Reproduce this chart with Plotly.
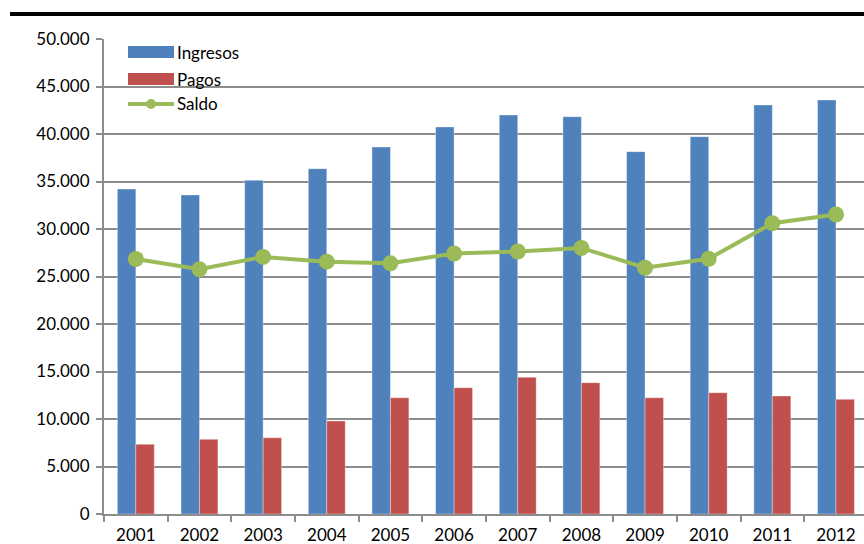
import plotly.graph_objects as go

# Series data (thousands of units per year)
years = ["2001", "2002", "2003", "2004", "2005", "2006",
         "2007", "2008", "2009", "2010", "2011", "2012"]
ingresos = [34210, 33580, 35130, 36350, 38630, 40740,
            42000, 41820, 38140, 39720, 43050, 43580]
pagos = [7340, 7860, 8030, 9790, 12240, 13300,
         14390, 13820, 12240, 12770, 12420, 12070]
saldo = [26840, 25760, 27060, 26560, 26390, 27420,
         27630, 28010, 25920, 26860, 30610, 31530]
y_ticks = [0, 5000, 10000, 15000, 20000, 25000,
           30000, 35000, 40000, 45000, 50000]
y_labels = ["0", "5.000", "10.000", "15.000", "20.000", "25.000",
            "30.000", "35.000", "40.000", "45.000", "50.000"]

BLUE = "#4F81BD"
RED = "#C0504D"
GREEN = "#9BBB59"
GRID = "#8C8C8C"
FONT = "Lato"
FS = 17

W, H = 864, 544
L, R, T, B = 104, 0, 39, 30
PW, PH = W - L - R, H - T - B


def xp(px):
    return (px - L) / PW


def yp(py):
    return (H - B - py) / PH


fig = go.Figure()
fig.add_bar(x=years, y=ingresos, name="Ingresos", marker_color=BLUE,
            marker_line=dict(color="rgba(255,255,255,0.35)", width=1))
fig.add_bar(x=years, y=pagos, name="Pagos", marker_color=RED,
            marker_line=dict(color="rgba(255,255,255,0.35)", width=1))
fig.add_scatter(x=years, y=saldo, name="Saldo", mode="lines+markers",
                line=dict(color=GREEN, width=4),
                marker=dict(color=GREEN, size=16))

shapes = []
annotations = []

# Heavy rule across the top of the figure
shapes.append(dict(type="line", xref="paper", yref="paper",
                   x0=xp(10), x1=1.0, y0=yp(14), y1=yp(14),
                   line=dict(color="black", width=4)))

# Legend drawn inside the plot area
sw_x0, sw_x1, txt_x = 128, 174, 175
for name, color, cy in [("Ingresos", BLUE, 52), ("Pagos", RED, 79)]:
    shapes.append(dict(type="rect", xref="paper", yref="paper",
                       x0=xp(sw_x0), x1=xp(sw_x1), y0=yp(cy - 6), y1=yp(cy + 6),
                       fillcolor=color, line=dict(width=0)))
    annotations.append(dict(text=name, xref="paper", yref="paper",
                            x=xp(txt_x), y=yp(cy), xanchor="left", yanchor="middle",
                            showarrow=False, font=dict(family=FONT, size=FS, color="black")))
cy = 104
shapes.append(dict(type="line", xref="paper", yref="paper",
                   x0=xp(sw_x0), x1=xp(sw_x1), y0=yp(cy), y1=yp(cy),
                   line=dict(color=GREEN, width=4)))
shapes.append(dict(type="circle", xref="paper", yref="paper",
                   x0=xp(151 - 5), x1=xp(151 + 5), y0=yp(cy - 5), y1=yp(cy + 5),
                   fillcolor=GREEN, line=dict(width=0)))
annotations.append(dict(text="Saldo", xref="paper", yref="paper",
                        x=xp(txt_x), y=yp(cy), xanchor="left", yanchor="middle",
                        showarrow=False, font=dict(family=FONT, size=FS, color="black")))

fig.update_layout(
    width=W, height=H,
    margin=dict(l=L, r=R, t=T, b=B, pad=0),
    paper_bgcolor="white", plot_bgcolor="white",
    barmode="group", bargap=0.42, bargroupgap=0,
    showlegend=False,
    font=dict(family=FONT, size=FS, color="black"),
    shapes=shapes, annotations=annotations,
)
fig.update_xaxes(
    type="category", range=[-0.5, 11.44],
    showline=True, linecolor=GRID, linewidth=2,
    ticks="outside", tickson="boundaries", ticklen=6, tickcolor=GRID, tickwidth=2,
    showgrid=False, tickfont=dict(family=FONT, size=FS),
    ticklabelstandoff=5,
)
fig.update_yaxes(
    range=[0, 50000], tickvals=y_ticks, ticktext=y_labels,
    showline=True, linecolor=GRID, linewidth=2,
    ticks="outside", ticklen=6, tickcolor=GRID, tickwidth=2,
    showgrid=True, gridcolor=GRID, gridwidth=2, zeroline=False,
    tickfont=dict(family=FONT, size=FS), ticklabelstandoff=3,
)

fig.write_html("out.html")
